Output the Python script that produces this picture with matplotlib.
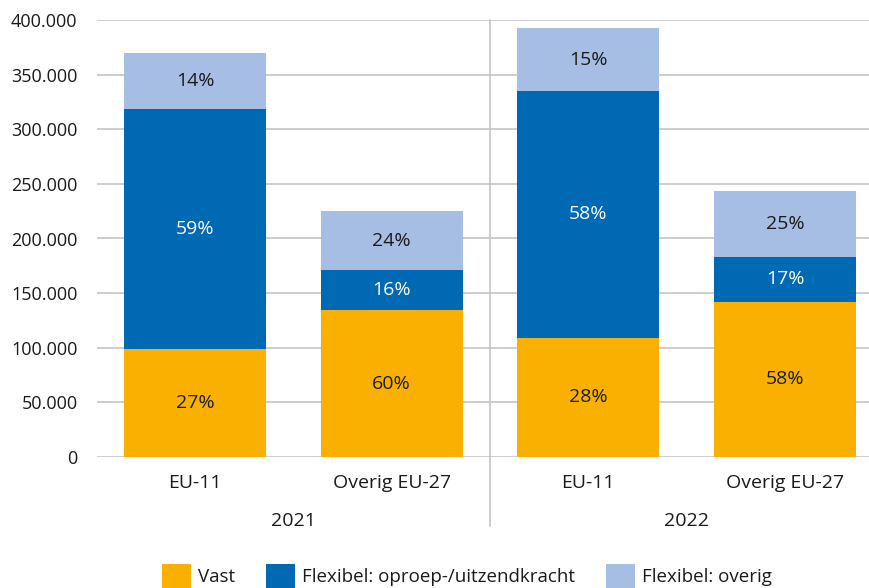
import matplotlib.pyplot as plt
import numpy as np
from matplotlib.ticker import FuncFormatter

plt.rcParams["font.family"] = ["Open Sans", "DejaVu Sans"]

# Werknemers naar contractvorm, per herkomstgroep en jaar
categories = ["EU-11", "Overig EU-27", "EU-11", "Overig EU-27"]
years = ["2021", "2022"]
vast = [99000, 134500, 109000, 142000]
oproep = [219500, 36500, 226000, 41000]
overig = [51500, 54000, 57500, 60500]

series = [
    ("Vast", vast, "#F9B000", "#1a1a1a"),
    ("Flexibel: oproep-/uitzendkracht", oproep, "#0069B4", "white"),
    ("Flexibel: overig", overig, "#A6BEE3", "#1a1a1a"),
]

totals = np.sum([vast, oproep, overig], axis=0)
x = np.arange(len(categories))

fig = plt.figure(figsize=(8.7, 5.88), dpi=100)
ax = fig.add_axes([97 / 870, 131 / 588, 773 / 870, 437 / 588])

bottom = np.zeros(len(categories))
handles = []
for label, values, color, text_color in series:
    bars = ax.bar(x, values, width=0.722, bottom=bottom, color=color,
                  label=label, zorder=3)
    handles.append(bars)
    for xi, b, v, t in zip(x, bottom, values, totals):
        ax.text(xi, b + v / 2, f"{100 * v / t:.0f}%", ha="center",
                va="center", fontsize=14, color=text_color, zorder=4)
    bottom += values

ax.set_ylim(0, 400000)
ax.set_xlim(-0.498, 3.432)
ax.set_yticks(np.arange(0, 400001, 50000))
ax.yaxis.set_major_formatter(
    FuncFormatter(lambda v, _: f"{v:,.0f}".replace(",", ".")))
ax.tick_params(axis="y", length=0, pad=14, labelsize=13, labelcolor="#1a1a1a")
ax.grid(axis="y", color="#C0C0C0", linewidth=1.1, zorder=0)
ax.set_axisbelow(True)
for spine in ax.spines.values():
    spine.set_visible(False)

ax.set_xticks(x)
ax.set_xticklabels(categories, fontsize=14, color="#1a1a1a")
ax.tick_params(axis="x", length=0, pad=12)

# jaartallen onder de categorieen
for i, year in enumerate(years):
    ax.annotate(year, xy=(2 * i + 0.5, 0), xycoords=("data", "axes fraction"),
                xytext=(0, -46), textcoords="offset points", ha="center",
                va="center", fontsize=14, color="#1a1a1a")

# scheidingslijn tussen de jaren
ax.axvline(1.5, ymin=-69 / 437, ymax=1, color="#C0C0C0", linewidth=1.1,
           clip_on=False, zorder=1)

fig.legend(handles=handles, loc="center left",
           bbox_to_anchor=(162 / 870, 12 / 588), ncol=3, frameon=False,
           fontsize=13.5, handlelength=1.55, handleheight=1.6,
           handletextpad=0.35, columnspacing=1.68, borderpad=0,
           borderaxespad=0, labelcolor="#1a1a1a")

fig.savefig("out.png", dpi=100)
